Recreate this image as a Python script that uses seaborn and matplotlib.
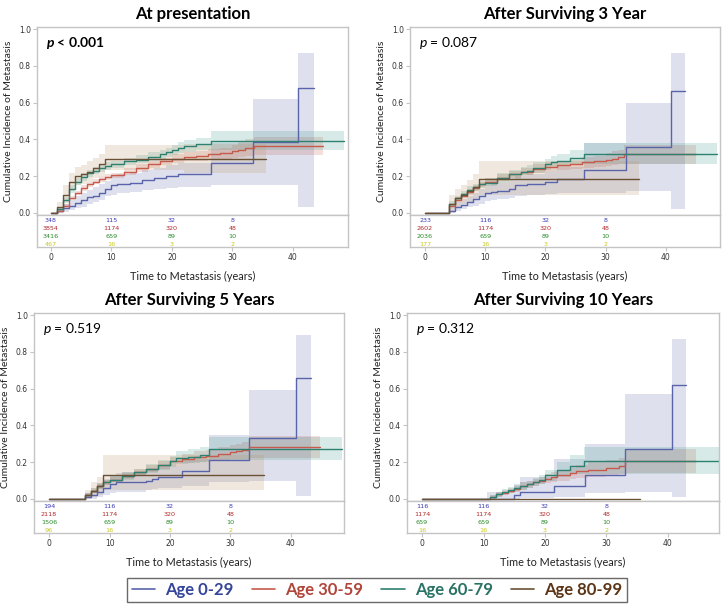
import pandas as pd
import matplotlib
matplotlib.use("Agg")
import matplotlib.pyplot as plt
from matplotlib.lines import Line2D
import seaborn as sns

# --- Groups and styling ---
GROUPS = ["Age 0-29", "Age 30-59", "Age 60-79", "Age 80-99"]
LINE_COLORS = ["#5a64aa", "#c65a4c", "#2e8070", "#6a5034"]
BAND_COLORS = ["#5a64aa", "#c65a4c", "#3a9a88", "#b89060"]
LEGEND_TEXT_COLORS = ["#34459a", "#b0463a", "#2a7264", "#5c3416"]
RISK_COLORS = ["#3a3ab8", "#b02828", "#2a8a2a", "#c8c81e"]

TITLES = ["At presentation", "After Surviving 3 Year",
          "After Surviving 5 Years", "After Surviving 10 Years"]
P_LABELS = [r"$\mathbfit{p}$ < 0.001", r"$\mathit{p}$ = 0.087",
            r"$\mathit{p}$ = 0.519", r"$\mathit{p}$ = 0.312"]
P_BOLD = [True, False, False, False]
RISK_TIMES = [0, 10, 20, 30]
X_TICKS = [0, 10, 20, 30, 40]
Y_TICKS = [0.0, 0.2, 0.4, 0.6, 0.8, 1.0]

# --- At presentation ---
PRES_TIME = {
    "Age 0-29": [0, 1, 2, 3, 4, 5, 6, 7, 8, 9, 10, 11, 13, 15, 17, 19, 21, 26.4, 33.4, 40.9, 43.5],
    "Age 30-59": [0, 1, 2, 3, 4, 5, 6, 7, 8, 9, 10, 12, 14, 16, 18, 20, 22, 24, 26, 28, 30, 31, 32, 33.5, 45],
    "Age 60-79": [0, 1, 2, 3, 4, 5, 6, 7, 8, 9, 10, 12, 14, 16, 18, 19, 20, 21, 22, 24, 26.5, 48.5],
    "Age 80-99": [0, 1, 2, 3, 4, 5, 6, 7, 8, 9, 22, 35.5],
}
PRES_CIF = {
    "Age 0-29": [0, 0.01, 0.025, 0.04, 0.055, 0.07, 0.085, 0.095, 0.11, 0.13, 0.15, 0.16, 0.165, 0.18, 0.19, 0.2, 0.21, 0.27, 0.385, 0.68, 0.68],
    "Age 30-59": [0, 0.01, 0.04, 0.08, 0.11, 0.135, 0.155, 0.17, 0.185, 0.195, 0.205, 0.225, 0.245, 0.265, 0.28, 0.295, 0.305, 0.31, 0.32, 0.325, 0.335, 0.345, 0.355, 0.365, 0.365],
    "Age 60-79": [0, 0.02, 0.07, 0.13, 0.17, 0.195, 0.215, 0.23, 0.245, 0.255, 0.265, 0.28, 0.29, 0.305, 0.32, 0.33, 0.345, 0.355, 0.365, 0.375, 0.393, 0.393],
    "Age 80-99": [0, 0.03, 0.1, 0.17, 0.2, 0.21, 0.225, 0.245, 0.265, 0.295, 0.295, 0.295],
}
PRES_LOW = {
    "Age 0-29": [0, 0, 0.005, 0.015, 0.025, 0.035, 0.05, 0.06, 0.07, 0.09, 0.1, 0.11, 0.115, 0.125, 0.13, 0.135, 0.14, 0.15, 0.15, 0.03, 0.03],
    "Age 30-59": [0, 0.005, 0.03, 0.07, 0.1, 0.12, 0.14, 0.155, 0.17, 0.18, 0.19, 0.205, 0.225, 0.245, 0.26, 0.27, 0.28, 0.285, 0.29, 0.295, 0.3, 0.305, 0.31, 0.315, 0.315],
    "Age 60-79": [0, 0.01, 0.055, 0.11, 0.15, 0.175, 0.195, 0.21, 0.225, 0.235, 0.245, 0.26, 0.27, 0.28, 0.295, 0.305, 0.315, 0.325, 0.33, 0.34, 0.345, 0.345],
    "Age 80-99": [0, 0.01, 0.06, 0.12, 0.15, 0.16, 0.17, 0.19, 0.2, 0.235, 0.215, 0.215],
}
PRES_HIGH = {
    "Age 0-29": [0, 0.03, 0.05, 0.07, 0.09, 0.11, 0.125, 0.14, 0.155, 0.175, 0.2, 0.21, 0.22, 0.235, 0.245, 0.26, 0.27, 0.38, 0.62, 0.87, 0.87],
    "Age 30-59": [0, 0.02, 0.05, 0.09, 0.12, 0.15, 0.17, 0.185, 0.2, 0.21, 0.22, 0.245, 0.265, 0.285, 0.3, 0.32, 0.33, 0.335, 0.35, 0.355, 0.37, 0.385, 0.4, 0.415, 0.415],
    "Age 60-79": [0, 0.03, 0.085, 0.15, 0.19, 0.215, 0.235, 0.25, 0.265, 0.275, 0.285, 0.3, 0.315, 0.33, 0.345, 0.355, 0.37, 0.385, 0.395, 0.41, 0.445, 0.445],
    "Age 80-99": [0, 0.06, 0.15, 0.22, 0.25, 0.26, 0.28, 0.3, 0.32, 0.37, 0.375, 0.375],
}
PRES_RISK = {
    "Age 0-29": ["348", "115", "32", "8"],
    "Age 30-59": ["3854", "1174", "320", "48"],
    "Age 60-79": ["3416", "659", "89", "10"],
    "Age 80-99": ["467", "16", "3", "2"],
}

# --- After surviving 3 years ---
Y3_TIME = {
    "Age 0-29": [0, 3, 4, 5, 6, 7, 8, 9, 10, 11, 12, 14, 15, 17, 20, 22, 26.4, 33.4, 40.8, 43.2],
    "Age 30-59": [0, 3, 4, 5, 6, 7, 8, 9, 10, 12, 14, 16, 18, 20, 22, 24, 26, 28, 30, 31, 32, 33, 45],
    "Age 60-79": [0, 3, 4, 5, 6, 7, 8, 9, 10, 12, 14, 16, 17, 18, 20, 21, 22, 24, 26.4, 48.5],
    "Age 80-99": [0, 3, 4, 5, 6, 7, 8, 9, 35.5],
}
Y3_CIF = {
    "Age 0-29": [0, 0, 0.01, 0.03, 0.045, 0.06, 0.075, 0.09, 0.11, 0.115, 0.12, 0.13, 0.15, 0.16, 0.17, 0.185, 0.235, 0.36, 0.665, 0.665],
    "Age 30-59": [0, 0, 0.04, 0.07, 0.095, 0.115, 0.135, 0.155, 0.17, 0.19, 0.21, 0.225, 0.24, 0.25, 0.26, 0.265, 0.275, 0.28, 0.29, 0.295, 0.305, 0.32, 0.32],
    "Age 60-79": [0, 0, 0.05, 0.08, 0.105, 0.125, 0.14, 0.155, 0.165, 0.19, 0.21, 0.225, 0.23, 0.245, 0.265, 0.275, 0.28, 0.3, 0.322, 0.322],
    "Age 80-99": [0, 0, 0.05, 0.08, 0.1, 0.12, 0.14, 0.185, 0.185],
}
Y3_LOW = {
    "Age 0-29": [0, 0, 0, 0.01, 0.02, 0.03, 0.04, 0.05, 0.065, 0.07, 0.075, 0.08, 0.095, 0.1, 0.105, 0.11, 0.11, 0.12, 0.02, 0.02],
    "Age 30-59": [0, 0, 0.03, 0.06, 0.08, 0.1, 0.12, 0.14, 0.155, 0.175, 0.19, 0.205, 0.22, 0.23, 0.235, 0.24, 0.245, 0.25, 0.255, 0.26, 0.265, 0.265, 0.265],
    "Age 60-79": [0, 0, 0.035, 0.065, 0.09, 0.105, 0.12, 0.135, 0.145, 0.165, 0.185, 0.2, 0.205, 0.22, 0.235, 0.245, 0.25, 0.265, 0.265, 0.265],
    "Age 80-99": [0, 0, 0.01, 0.03, 0.05, 0.06, 0.07, 0.1, 0.1],
}
Y3_HIGH = {
    "Age 0-29": [0, 0, 0.03, 0.06, 0.075, 0.095, 0.11, 0.13, 0.15, 0.16, 0.165, 0.18, 0.2, 0.21, 0.23, 0.25, 0.38, 0.6, 0.87, 0.87],
    "Age 30-59": [0, 0, 0.05, 0.085, 0.11, 0.13, 0.15, 0.17, 0.19, 0.21, 0.23, 0.245, 0.265, 0.275, 0.285, 0.29, 0.305, 0.31, 0.325, 0.335, 0.345, 0.37, 0.37],
    "Age 60-79": [0, 0, 0.065, 0.095, 0.12, 0.145, 0.16, 0.175, 0.19, 0.215, 0.235, 0.25, 0.26, 0.275, 0.295, 0.31, 0.32, 0.345, 0.38, 0.38],
    "Age 80-99": [0, 0, 0.1, 0.13, 0.15, 0.18, 0.21, 0.28, 0.28],
}
Y3_RISK = {
    "Age 0-29": ["233", "116", "32", "8"],
    "Age 30-59": ["2602", "1174", "320", "48"],
    "Age 60-79": ["2036", "659", "89", "10"],
    "Age 80-99": ["177", "16", "3", "2"],
}

# --- After surviving 5 years ---
Y5_TIME = {
    "Age 0-29": [0, 5.3, 6, 7, 8, 9, 10, 11, 12, 16, 17, 18, 22, 26.5, 33.1, 40.9, 43.3],
    "Age 30-59": [0, 5.3, 6, 7, 8, 9, 10, 12, 14, 16, 18, 20, 22, 24, 26, 28, 30, 31, 32, 33, 44.8],
    "Age 60-79": [0, 5.3, 6, 7, 8, 9, 10, 12, 14, 16, 18, 20, 21, 23, 25, 26.5, 48.5],
    "Age 80-99": [0, 5.3, 6, 7, 8, 9, 35.5],
}
Y5_CIF = {
    "Age 0-29": [0, 0, 0.01, 0.02, 0.04, 0.06, 0.08, 0.09, 0.09, 0.1, 0.11, 0.12, 0.15, 0.21, 0.33, 0.655, 0.655],
    "Age 30-59": [0, 0, 0.02, 0.045, 0.07, 0.09, 0.105, 0.125, 0.145, 0.165, 0.185, 0.205, 0.22, 0.23, 0.235, 0.245, 0.255, 0.26, 0.265, 0.28, 0.28],
    "Age 60-79": [0, 0, 0.02, 0.045, 0.07, 0.09, 0.105, 0.125, 0.145, 0.165, 0.185, 0.205, 0.225, 0.23, 0.24, 0.27, 0.27],
    "Age 80-99": [0, 0, 0.02, 0.045, 0.07, 0.13, 0.13],
}
Y5_LOW = {
    "Age 0-29": [0, 0, 0, 0, 0.01, 0.02, 0.035, 0.04, 0.04, 0.05, 0.055, 0.06, 0.07, 0.09, 0.1, 0.015, 0.015],
    "Age 30-59": [0, 0, 0.01, 0.03, 0.055, 0.075, 0.09, 0.11, 0.125, 0.145, 0.165, 0.18, 0.195, 0.2, 0.205, 0.21, 0.215, 0.22, 0.22, 0.225, 0.225],
    "Age 60-79": [0, 0, 0.01, 0.03, 0.055, 0.075, 0.09, 0.105, 0.125, 0.14, 0.16, 0.175, 0.19, 0.195, 0.2, 0.21, 0.21],
    "Age 80-99": [0, 0, 0, 0.01, 0.02, 0.05, 0.05],
}
Y5_HIGH = {
    "Age 0-29": [0, 0, 0.03, 0.05, 0.08, 0.11, 0.13, 0.14, 0.145, 0.155, 0.165, 0.18, 0.22, 0.35, 0.59, 0.89, 0.89],
    "Age 30-59": [0, 0, 0.03, 0.06, 0.085, 0.105, 0.12, 0.14, 0.165, 0.185, 0.205, 0.23, 0.245, 0.26, 0.265, 0.28, 0.295, 0.3, 0.31, 0.34, 0.34],
    "Age 60-79": [0, 0, 0.035, 0.06, 0.085, 0.105, 0.125, 0.145, 0.165, 0.19, 0.21, 0.235, 0.26, 0.27, 0.28, 0.335, 0.335],
    "Age 80-99": [0, 0, 0.05, 0.09, 0.12, 0.24, 0.24],
}
Y5_RISK = {
    "Age 0-29": ["194", "116", "32", "8"],
    "Age 30-59": ["2118", "1174", "320", "48"],
    "Age 60-79": ["1506", "659", "89", "10"],
    "Age 80-99": ["96", "16", "3", "2"],
}

# --- After surviving 10 years ---
Y10_TIME = {
    "Age 0-29": [0, 10.5, 15, 16, 21.5, 26.5, 33, 40.6, 43],
    "Age 30-59": [0, 10.5, 11, 12, 13, 14, 15, 16, 17, 18, 19, 20, 21, 22, 24, 25, 27, 30, 32, 33, 44.6],
    "Age 60-79": [0, 10.5, 11, 12, 13, 14, 15, 16, 17, 18, 19, 20, 22, 24, 26.3, 48.5],
    "Age 80-99": [0, 35.5],
}
Y10_CIF = {
    "Age 0-29": [0, 0, 0.02, 0.04, 0.07, 0.13, 0.27, 0.62, 0.62],
    "Age 30-59": [0, 0, 0.01, 0.025, 0.035, 0.045, 0.055, 0.07, 0.08, 0.09, 0.1, 0.11, 0.12, 0.13, 0.14, 0.15, 0.16, 0.17, 0.18, 0.205, 0.205],
    "Age 60-79": [0, 0, 0.01, 0.025, 0.04, 0.05, 0.06, 0.07, 0.08, 0.09, 0.105, 0.13, 0.16, 0.18, 0.205, 0.205],
    "Age 80-99": [0, 0],
}
Y10_LOW = {
    "Age 0-29": [0, 0, 0, 0.005, 0.01, 0.03, 0.04, 0.01, 0.01],
    "Age 30-59": [0, 0, 0, 0.01, 0.02, 0.03, 0.04, 0.05, 0.06, 0.07, 0.08, 0.085, 0.095, 0.1, 0.11, 0.115, 0.12, 0.13, 0.135, 0.14, 0.14],
    "Age 60-79": [0, 0, 0, 0.01, 0.025, 0.035, 0.045, 0.05, 0.06, 0.07, 0.08, 0.1, 0.12, 0.135, 0.135, 0.135],
    "Age 80-99": [0, 0],
}
Y10_HIGH = {
    "Age 0-29": [0, 0.04, 0.08, 0.12, 0.22, 0.3, 0.57, 0.87, 0.87],
    "Age 30-59": [0, 0, 0.02, 0.04, 0.05, 0.06, 0.07, 0.09, 0.1, 0.11, 0.12, 0.135, 0.145, 0.16, 0.17, 0.185, 0.2, 0.21, 0.225, 0.27, 0.27],
    "Age 60-79": [0, 0, 0.02, 0.04, 0.055, 0.065, 0.075, 0.09, 0.1, 0.115, 0.13, 0.16, 0.2, 0.24, 0.28, 0.28],
    "Age 80-99": [0, 0],
}
Y10_RISK = {
    "Age 0-29": ["116", "116", "32", "8"],
    "Age 30-59": ["1174", "1174", "320", "48"],
    "Age 60-79": ["659", "659", "89", "10"],
    "Age 80-99": ["16", "16", "3", "2"],
}

# Layout of each panel in figure pixels: (left, right, top of plot, bottom of plot, bottom of risk table, xlim)
FIG_W, FIG_H = 724, 605
PANEL_BOXES = [
    (37, 348, 27, 215, 247, (-2.3, 49.1)),
    (410, 720, 27, 215, 247, (-2.5, 49.0)),
    (34, 344, 313, 501, 533, (-2.5, 48.8)),
    (407, 719, 313, 501, 533, (-2.45, 48.3)),
]

FRAME = "#c4c4c4"
TEXT = "#333333"


def setup_style():
    sns.set_theme(style="white")
    plt.rcParams.update({
        "font.family": ["Lato", "DejaVu Sans"],
        "mathtext.fontset": "custom",
        "mathtext.rm": "Lato",
        "mathtext.it": "Lato:italic",
        "mathtext.bf": "Lato:bold",
        "mathtext.bfit": "Lato:bold:italic",
        "axes.edgecolor": FRAME,
        "axes.linewidth": 1.0,
        "figure.facecolor": "white",
        "axes.facecolor": "white",
    })


def to_rect(left, right, top, bottom):
    return [left / FIG_W, 1 - bottom / FIG_H, (right - left) / FIG_W, (bottom - top) / FIG_H]


def draw_panel(fig, box, title, p_label, p_bold, times, cif, low, high, risk):
    left, right, top, sep, rbottom, xlim = box
    ax = fig.add_axes(to_rect(left, right, top, sep))
    rax = fig.add_axes(to_rect(left, right, sep, rbottom), sharex=ax)

    # confidence bands first, then the step curves on top
    for g, bc in zip(GROUPS, BAND_COLORS):
        ax.fill_between(times[g], low[g], high[g], step="post", color=bc, alpha=0.2, linewidth=0)
    for g, lc in zip(GROUPS, LINE_COLORS):
        df = pd.DataFrame({"time": times[g], "cif": cif[g]})
        sns.lineplot(data=df, x="time", y="cif", ax=ax, color=lc, linewidth=1.0,
                     drawstyle="steps-post", estimator=None, sort=False, legend=False)

    ax.set_xlim(*xlim)
    ax.set_ylim(-0.011, 1.011)
    ax.set_yticks(Y_TICKS)
    ax.set_yticklabels([f"{v:.1f}" for v in Y_TICKS], fontsize=5.5, color=TEXT,
                       family="DejaVu Sans")
    ax.tick_params(axis="y", left=True, length=3, width=0.8, color=FRAME, pad=1.5)
    ax.tick_params(axis="x", bottom=False, labelbottom=False)
    ax.set_xlabel("")
    ax.set_ylabel("Cumulative Incidence of Metastasis", fontsize=7.5, color="#222222", labelpad=4)
    ax.set_title(title, fontsize=12, fontweight="bold", color="black", pad=6)
    ax.text(0.03, 0.955, p_label, transform=ax.transAxes, fontsize=10,
            fontweight="bold" if p_bold else "normal", color="black", va="top", ha="left")

    # number-at-risk table under the plot
    rax.set_ylim(32, 0)
    rax.set_yticks([])
    for row, (g, rc) in enumerate(zip(GROUPS, RISK_COLORS)):
        for t, n in zip(RISK_TIMES, risk[g]):
            rax.text(t, 5 + 8 * row, n, color=rc, fontsize=4.6, ha="center", va="center",
                     family="DejaVu Sans")
    rax.set_xticks(X_TICKS)
    rax.set_xticklabels([str(v) for v in X_TICKS], fontsize=5.5, color=TEXT, family="DejaVu Sans")
    rax.tick_params(axis="x", bottom=True, length=3, width=0.8, color=FRAME, pad=1.5)
    rax.set_xlabel("Time to Metastasis (years)", fontsize=7.8, color="#222222", labelpad=6)


def main():
    setup_style()
    fig = plt.figure(figsize=(FIG_W / 100, FIG_H / 100), dpi=100)

    panels = [
        (PRES_TIME, PRES_CIF, PRES_LOW, PRES_HIGH, PRES_RISK),
        (Y3_TIME, Y3_CIF, Y3_LOW, Y3_HIGH, Y3_RISK),
        (Y5_TIME, Y5_CIF, Y5_LOW, Y5_HIGH, Y5_RISK),
        (Y10_TIME, Y10_CIF, Y10_LOW, Y10_HIGH, Y10_RISK),
    ]
    for box, title, p_label, p_bold, data in zip(PANEL_BOXES, TITLES, P_LABELS, P_BOLD, panels):
        draw_panel(fig, box, title, p_label, p_bold, *data)

    handles = [Line2D([0], [0], color=c, linewidth=1.2) for c in LINE_COLORS]
    leg = fig.legend(handles, GROUPS, loc="center", bbox_to_anchor=(377 / FIG_W, 1 - 590 / FIG_H),
                     ncol=4, frameon=True, fancybox=False, edgecolor="#444444",
                     prop={"family": "Lato", "weight": "bold", "size": 12},
                     handlelength=1.4, handletextpad=0.6, columnspacing=1.1,
                     borderpad=0.25)
    leg.get_frame().set_linewidth(1.0)
    for txt, c in zip(leg.get_texts(), LEGEND_TEXT_COLORS):
        txt.set_color(c)

    fig.savefig("out.png", dpi=100)
    plt.close(fig)


if __name__ == "__main__":
    main()
